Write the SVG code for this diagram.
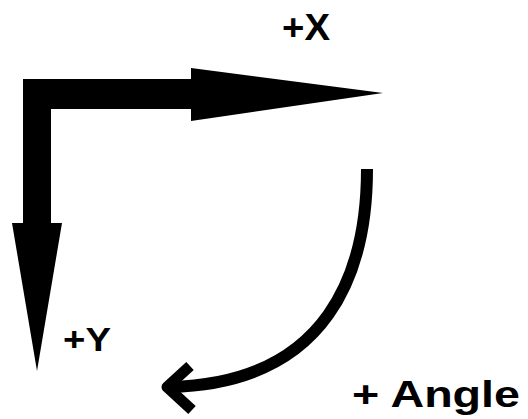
<svg xmlns="http://www.w3.org/2000/svg" width="528" height="419" viewBox="0 0 528 419">
<style>
.lbl{font-family:"Liberation Sans",Arial,sans-serif;font-weight:bold;fill:#000}
.ink{fill:none;stroke:#000}
</style>
<rect width="528" height="419" fill="#fff"/>
<g id="axes">
<polygon points="23,79 191,79 191,68 383,93 191,121 191,109 51,109 51,223 62,223 37,371 12,223 23,223" fill="#000"/>
</g>
<g id="connectors">
<path class="ink" d="M367,169 C367,270 330,383 170,387" stroke-width="12"/>
<polyline class="ink" points="190,366 167,387 192,410" stroke-width="11" stroke-linejoin="round"/>
</g>
<g id="label-x"><text class="lbl" x="282" y="40" font-size="36" textLength="48" lengthAdjust="spacingAndGlyphs">+X</text></g>
<g id="label-y"><text class="lbl" x="63" y="351" font-size="34" textLength="48" lengthAdjust="spacingAndGlyphs">+Y</text></g>
<g id="label-angle"><text class="lbl" x="352" y="407" font-size="37" textLength="168" lengthAdjust="spacingAndGlyphs">+ Angle</text></g>
</svg>
